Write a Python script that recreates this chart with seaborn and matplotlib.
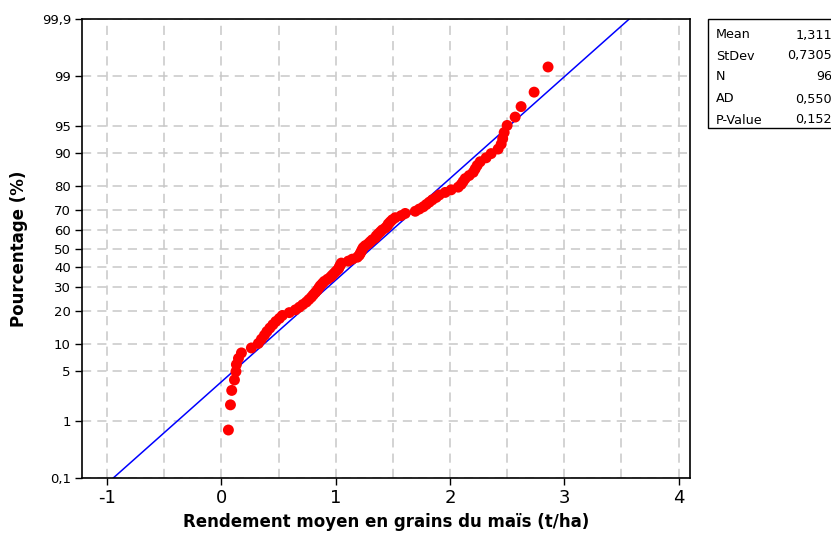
import numpy as np
import pandas as pd
import seaborn as sns
import matplotlib
matplotlib.use("Agg")
import matplotlib.pyplot as plt
from matplotlib.patches import Rectangle
from statistics import NormalDist

# ---- data (sorted observed yields, t/ha) ----
yield_values = [
    0.061, 0.079, 0.090, 0.114, 0.127, 0.131, 0.149, 0.175, 0.262, 0.323,
    0.350, 0.376, 0.398, 0.424, 0.450, 0.476, 0.507, 0.533, 0.594, 0.647,
    0.682, 0.712, 0.743, 0.765, 0.787, 0.804, 0.822, 0.839, 0.852, 0.865,
    0.883, 0.900, 0.927, 0.953, 0.970, 0.988, 1.005, 1.023, 1.031, 1.040,
    1.049, 1.110, 1.145, 1.189, 1.206, 1.215, 1.224, 1.232, 1.241, 1.259,
    1.285, 1.302, 1.320, 1.346, 1.355, 1.372, 1.390, 1.407, 1.434, 1.451,
    1.460, 1.477, 1.495, 1.521, 1.573, 1.608, 1.696, 1.731, 1.766, 1.792,
    1.818, 1.845, 1.879, 1.906, 1.958, 2.010, 2.072, 2.098, 2.115, 2.133,
    2.168, 2.203, 2.220, 2.238, 2.264, 2.316, 2.360, 2.421, 2.448, 2.461,
    2.474, 2.500, 2.570, 2.622, 2.736, 2.858,
]
mean_val = 1.311
sd_val = 0.7305
stat_names = ["Mean", "StDev", "N", "AD", "P-Value"]
stat_values = ["1,311", "0,7305", "96", "0,550", "0,152"]

pct_ticks = [0.1, 1, 5, 10, 20, 30, 40, 50, 60, 70, 80, 90, 95, 99, 99.9]
pct_labels = ["0,1", "1", "5", "10", "20", "30", "40", "50", "60", "70",
              "80", "90", "95", "99", "99,9"]
x_ticks = [-1, 0, 1, 2, 3, 4]

xlabel = "Rendement moyen en grains du maïs (t/ha)"
ylabel = "Pourcentage (%)"

# ---- normal probability positions ----
nd = NormalDist()
n = len(yield_values)
ranks = np.arange(1, n + 1)
plot_pos = (ranks - 0.3) / (n + 0.4)
df_pts = pd.DataFrame({"x": yield_values, "z": [nd.inv_cdf(p) for p in plot_pos]})

z_lo, z_hi = nd.inv_cdf(0.001), nd.inv_cdf(0.999)
df_line = pd.DataFrame({"z": [z_lo, z_hi]})
df_line["x"] = mean_val + sd_val * df_line["z"]

# ---- figure ----
sns.set_style("ticks")
plt.rcParams["font.family"] = ["DejaVu Sans"]
plt.rcParams["text.color"] = "black"
plt.rcParams["axes.labelcolor"] = "black"
plt.rcParams["xtick.color"] = "black"
plt.rcParams["ytick.color"] = "black"

fig = plt.figure(figsize=(8.31, 5.34), dpi=100)
ax = fig.add_axes([82 / 831, 56 / 534, 608 / 831, 459 / 534])

sns.lineplot(data=df_line, x="x", y="z", color="#0000ff", linewidth=1.1,
             ax=ax, zorder=2, sort=False)
sns.scatterplot(data=df_pts, x="x", y="z", color="#ff0000", s=62,
                edgecolor="none", linewidth=0, ax=ax, zorder=3)

ax.set_xlim(-1.22, 4.1)
ax.set_ylim(z_lo, z_hi)

ax.set_xticks(x_ticks)
ax.set_xticklabels([str(t) for t in x_ticks], fontsize=13)
ax.set_xticks(np.arange(-1, 4.01, 0.5), minor=True)
ax.set_yticks([nd.inv_cdf(p / 100) for p in pct_ticks])
ax.set_yticklabels(pct_labels, fontsize=9.5)

grid_kw = dict(color="#c8c8c8", linestyle=(0, (6, 4)), linewidth=1.1, zorder=0)
ax.grid(False)
ax.xaxis.grid(True, which="both", **grid_kw)
ax.yaxis.grid(True, which="major", **grid_kw)
ax.set_axisbelow(True)

ax.tick_params(axis="both", which="major", direction="out", length=5,
               width=1, color="black", labelcolor="black", pad=3)
ax.tick_params(axis="x", which="minor", length=0)
for sp in ax.spines.values():
    sp.set_visible(True)
    sp.set_color("black")
    sp.set_linewidth(1.2)

ax.set_xlabel(xlabel, fontsize=12, fontweight="bold", labelpad=4, color="black")
ax.set_ylabel(ylabel, fontsize=12, fontweight="bold", labelpad=10, color="black")

# ---- stats box ----
box = Rectangle((708 / 831, (534 - 128) / 534), 0.2, 109 / 534,
                transform=fig.transFigure, facecolor="white",
                edgecolor="black", linewidth=1.0, clip_on=False)
fig.add_artist(box)
row_y = [35, 56, 77, 99, 120]
for name, val, yy in zip(stat_names, stat_values, row_y):
    fig.text(716 / 831, 1 - yy / 534, name, fontsize=9.2, va="center",
             ha="left", color="black")
    fig.text(832 / 831, 1 - yy / 534, val, fontsize=9.2, va="center",
             ha="right", color="black")

fig.savefig("out.png", dpi=100)
